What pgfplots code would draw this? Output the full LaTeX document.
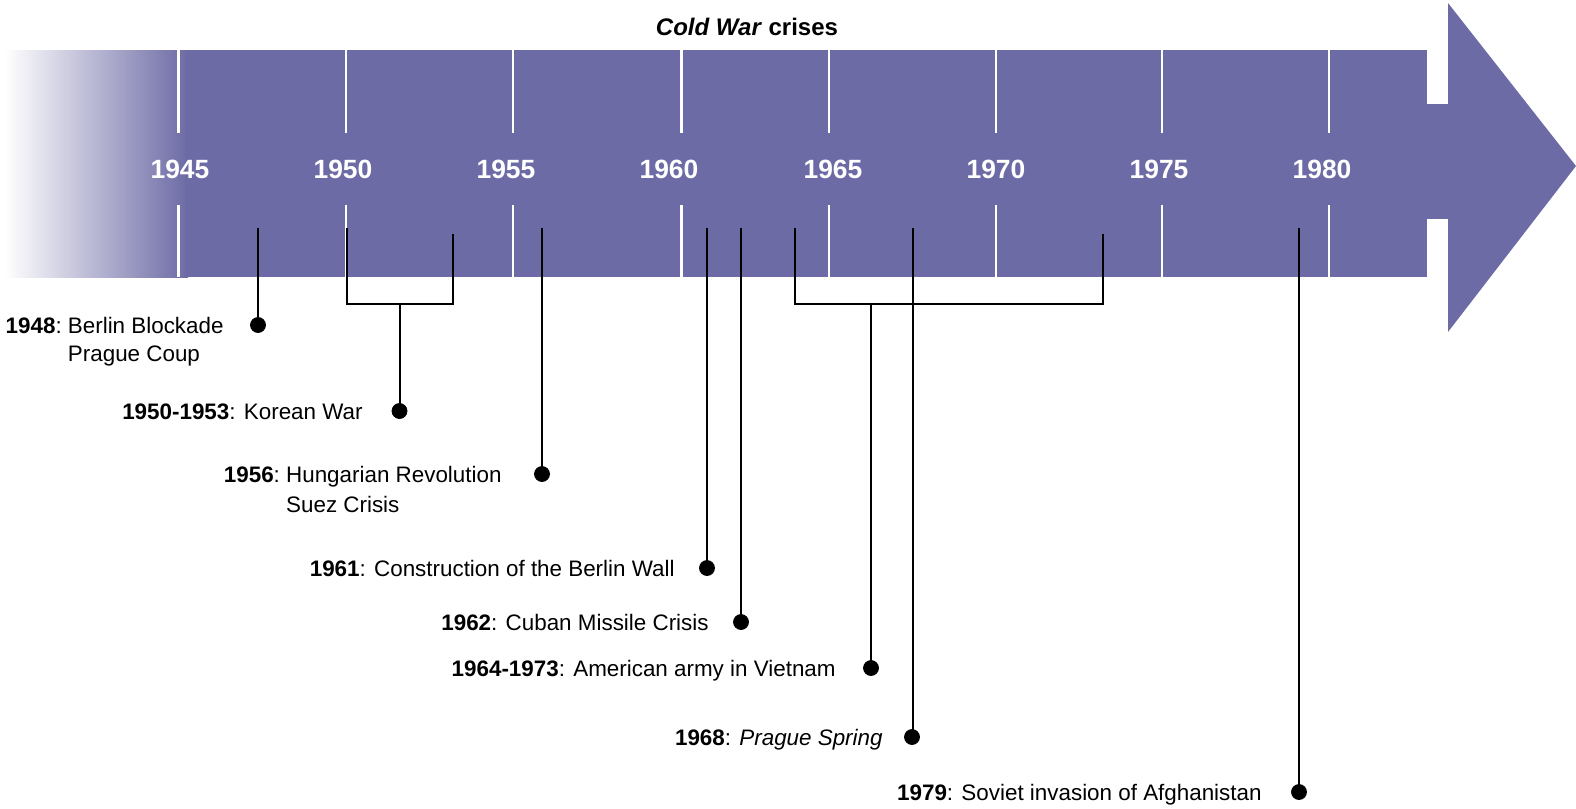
\documentclass[border=0pt]{standalone}
\usepackage{pgfplots}
\pgfplotsset{compat=1.18}
\usepackage{fontspec}
\setmainfont{Liberation Sans}
\definecolor{purp}{RGB}{109,107,165}

% year labels: position (px), y (px), label
\pgfplotstableread{
x y lab
180 169 1945
343 169 1950
506 169 1955
669 169 1960
833 169 1965
996 169 1970
1159 169 1975
1322 169 1980
}\yeartab

% event dots: x (px), y (px)
\pgfplotstableread{
x y
258 325
399.5 411
542 474
707 568
741 622
871 668
912 737
1299 792
}\dottab

\begin{document}
\begin{tikzpicture}
\begin{axis}[
  scale only axis, width=788pt, height=404.5pt,
  xmin=0, xmax=1576, ymin=0, ymax=809, y dir=reverse,
  hide axis, clip=false,
  unbounded coords=jump,
]
\draw[draw=none] (axis cs:0,0) rectangle (axis cs:1576,809);
% band with fade
\shade[left color=white, right color=purp] (axis cs:5,50) rectangle (axis cs:188,277);
\fill[purp] (axis cs:185,50) rectangle (axis cs:1427,277);
\fill[purp] (axis cs:1426,104) rectangle (axis cs:1449,219);
\fill[purp] (axis cs:1448,3) -- (axis cs:1576,166) -- (axis cs:1448,332) -- cycle;
% white grid lines
\addplot[white, line width=1.2pt] coordinates {
(178.6,50) (178.6,133) (0,nan) (178.6,205) (178.6,277) (0,nan)
(346,50) (346,133) (0,nan) (346,205) (346,277) (0,nan)
(513,50) (513,133) (0,nan) (513,205) (513,277) (0,nan)
(681.6,50) (681.6,133) (0,nan) (681.6,205) (681.6,277) (0,nan)
(829,50) (829,133) (0,nan) (829,205) (829,277) (0,nan)
(996,50) (996,133) (0,nan) (996,205) (996,277) (0,nan)
(1162,50) (1162,133) (0,nan) (1162,205) (1162,277) (0,nan)
(1329,50) (1329,133) (0,nan) (1329,205) (1329,277)
};
% year labels
\addplot[only marks, mark=none, nodes near coords, point meta=explicit symbolic,
  every node near coord/.append style={anchor=center, text=white, font=\fontsize{13.2}{15}\selectfont\bfseries}]
  table[x=x, y=y, meta=lab] {\yeartab};
% stems and brackets
\addplot[black, line width=1pt] coordinates {
(258,228) (258,325) (0,nan)
(347,228) (347,304) (453,304) (453,234) (0,nan)
(399.5,304) (399.5,411) (0,nan)
(542,228) (542,474) (0,nan)
(707,228) (707,568) (0,nan)
(741,228) (741,622) (0,nan)
(795,228) (795,304) (1103,304) (1103,234) (0,nan)
(871,304) (871,668) (0,nan)
(913,228) (913,737) (0,nan)
(1299,228) (1299,792)
};
% dots
\addplot[only marks, mark=*, mark size=3.75pt, black] table[x=x, y=y] {\dottab};
% title
\node[font=\fontsize{12}{14}\selectfont\bfseries] at (axis cs:747,27) {\textit{Cold War} crises};
% event labels
\begin{scope}[every node/.style={anchor=base east, inner sep=0pt, font=\fontsize{11.2}{14}\selectfont}]
\node at (axis cs:224,333) {\begin{tabular}[t]{@{}l@{\hskip 0.278em}l@{}}\textbf{1948}: & Berlin Blockade\\ & Prague Coup\end{tabular}};
\node at (axis cs:363,419) {\textbf{1950-1953}: Korean War};
\node at (axis cs:502,482) {\begin{tabular}[t]{@{}l@{\hskip 0.278em}l@{}}\textbf{1956}: & Hungarian Revolution\\[1pt] & Suez Crisis\end{tabular}};
\node at (axis cs:675,576) {\textbf{1961}: Construction of the Berlin Wall};
\node at (axis cs:709,630) {\textbf{1962}: Cuban Missile Crisis};
\node at (axis cs:836,676) {\textbf{1964-1973}: American army in Vietnam};
\node at (axis cs:883,745) {\textbf{1968}: \textit{Prague Spring}};
\node at (axis cs:1262,800) {\textbf{1979}: Soviet invasion of Afghanistan};
\end{scope}
\end{axis}
\end{tikzpicture}
\end{document}
